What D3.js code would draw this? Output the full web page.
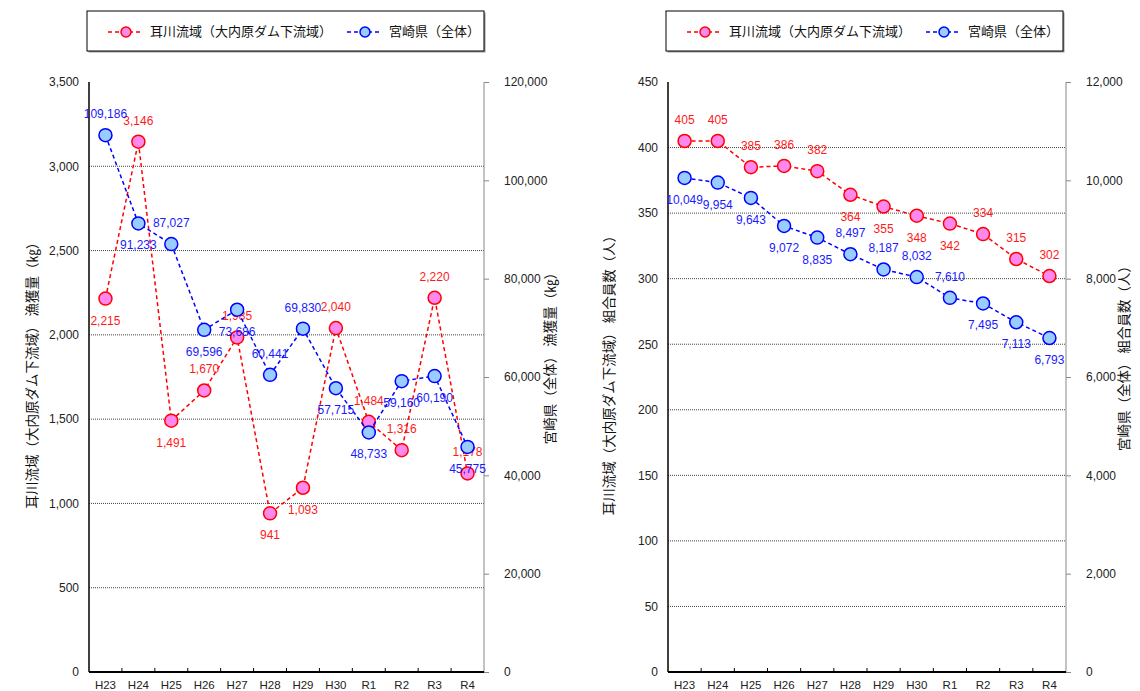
<!DOCTYPE html>
<html>
<head>
<meta charset="utf-8">
<script src="https://cdn.jsdelivr.net/npm/d3@7"></script>
<style>
body { margin: 0; background: #fff; }
</style>
</head>
<body>
<svg width="1140" height="691" font-family="Noto Sans CJK JP, Noto Sans, sans-serif"></svg>
<script>
// data
var years = ["H23", "H24", "H25", "H26", "H27", "H28", "H29", "H30", "R1", "R2", "R3", "R4"];
var catchMimi = [2215, 3146, 1491, 1670, 1985, 941, 1093, 2040, 1484, 1316, 2220, 1178];
var catchPref = [109186, 91233, 87027, 69596, 73686, 60441, 69830, 57715, 48733, 59160, 60190, 45775];
var memberMimi = [405, 405, 385, 386, 382, 364, 355, 348, 342, 334, 315, 302];
var memberPref = [10049, 9954, 9643, 9072, 8835, 8497, 8187, 8032, 7610, 7495, 7113, 6793];
var nameMimi = "耳川流域（大内原ダム下流域）";
var namePref = "宮崎県（全体）";

var svg = d3.select("svg");
var numFont = "Liberation Sans, Arial, sans-serif";

function drawChart(o) {
    var g = svg.append("g");
    var top = 82, bottom = 672;

    var scX = d3.scaleBand().domain(years).range([o.x0, o.x1]);
    var cx = d => scX(d) + scX.bandwidth() / 2;
    var scL = d3.scaleLinear().domain([0, o.leftMax]).range([bottom, top]);
    var scR = d3.scaleLinear().domain([0, o.rightMax]).range([bottom, top]);
    var leftTicks = d3.range(0, o.leftMax + 1, o.leftStep);
    var rightTicks = d3.range(0, o.rightMax + 1, o.rightStep);

    // grid lines (dotted)
    g.append("g").selectAll("line")
        .data(leftTicks.filter(v => v > 0 && v < o.leftMax))
        .enter().append("line")
        .attr("x1", o.x0).attr("x2", o.x1)
        .attr("y1", d => scL(d)).attr("y2", d => scL(d))
        .attr("stroke", "#444").attr("stroke-width", 1)
        .attr("stroke-dasharray", "1,1");

    // left axis
    var ax = g.append("g").attr("transform", "translate(" + o.x0 + ",0)")
        .call(d3.axisLeft(scL).tickValues(leftTicks).tickFormat(d3.format(",")).tickSize(0).tickPadding(10));
    ax.select(".domain").remove();
    ax.selectAll("text").attr("font-size", 12).attr("fill", "#222").attr("font-family", numFont);
    g.append("line").attr("x1", o.x0).attr("x2", o.x0).attr("y1", top).attr("y2", bottom)
        .attr("stroke", "#000").attr("stroke-width", 1.5);

    // right axis
    var ar = g.append("g").attr("transform", "translate(" + o.x1 + ",0)")
        .call(d3.axisRight(scR).tickValues(rightTicks).tickFormat(d3.format(",")).tickSize(5).tickPadding(15));
    ar.select(".domain").remove();
    ar.selectAll("line").attr("stroke", "#888");
    ar.selectAll("text").attr("font-size", 12).attr("fill", "#222").attr("font-family", numFont);
    g.append("line").attr("x1", o.x1).attr("x2", o.x1).attr("y1", top).attr("y2", bottom)
        .attr("stroke", "#888").attr("stroke-width", 1);

    // x axis
    var axb = g.append("g").attr("transform", "translate(0," + bottom + ")")
        .call(d3.axisBottom(scX).tickSize(0).tickPadding(9));
    axb.select(".domain").remove();
    axb.selectAll("text").attr("font-size", 11.5).attr("fill", "#222")
        .attr("font-family", "Liberation Sans Narrow, Liberation Sans, Arial, sans-serif");
    g.append("g").selectAll("line")
        .data(years.slice(1)).enter().append("line")
        .attr("x1", d => scX(d)).attr("x2", d => scX(d))
        .attr("y1", bottom).attr("y2", bottom - 4)
        .attr("stroke", "#000");
    g.append("line").attr("x1", o.x0).attr("x2", o.x1).attr("y1", bottom).attr("y2", bottom)
        .attr("stroke", "#000").attr("stroke-width", 2);

    // axis titles
    g.append("text").attr("transform", "translate(" + o.titleLx + ",372) rotate(-90)")
        .attr("text-anchor", "middle").attr("dominant-baseline", "middle")
        .attr("font-size", 13.5).attr("fill", "#111").text(o.titleL);
    g.append("text").attr("transform", "translate(" + o.titleRx + ",355) rotate(-90)")
        .attr("text-anchor", "middle").attr("dominant-baseline", "middle")
        .attr("font-size", 13.5).attr("fill", "#111").text(o.titleR);

    // series
    var series = [
        { vals: o.red, sc: scL, stroke: "#ff0000", fill: "#ff88ee", txt: "#ff1a1a", pos: o.redPos },
        { vals: o.blue, sc: scR, stroke: "#0000ff", fill: "#99ccff", txt: "#1a1aff", pos: o.bluePos }
    ];
    series.forEach(function(s) {
        var lineMaker = d3.line().x((d, i) => cx(years[i])).y(d => s.sc(d));
        g.append("path").attr("d", lineMaker(s.vals))
            .attr("fill", "none").attr("stroke", s.stroke).attr("stroke-width", 1.5)
            .attr("stroke-dasharray", "4,3");
        g.append("g").selectAll("circle")
            .data(s.vals).enter().append("circle")
            .attr("cx", (d, i) => cx(years[i])).attr("cy", d => s.sc(d))
            .attr("r", 6.5).attr("fill", s.fill).attr("stroke", s.stroke).attr("stroke-width", 1.5);
        g.append("g").selectAll("text")
            .data(s.vals).enter().append("text")
            .attr("x", (d, i) => cx(years[i]))
            .attr("y", (d, i) => s.sc(d) + (s.pos[i] === "a" ? -17 : 26))
            .attr("text-anchor", "middle").attr("font-size", 12)
            .attr("font-family", numFont)
            .attr("fill", s.txt).text(d => d3.format(",")(d));
    });

    // legend
    var lx = o.x0 - 2;
    g.append("rect").attr("x", lx + 1.5).attr("y", 12.5).attr("width", 397).attr("height", 40)
        .attr("fill", "#999");
    g.append("rect").attr("x", lx).attr("y", 11).attr("width", 397).attr("height", 40)
        .attr("fill", "#fff").attr("stroke", "#000").attr("stroke-width", 1);
    [[series[0], nameMimi, 21], [series[1], namePref, 260]].forEach(function(e) {
        var x = lx + e[2];
        g.append("line").attr("x1", x).attr("x2", x + 34).attr("y1", 32).attr("y2", 32)
            .attr("stroke", e[0].stroke).attr("stroke-width", 1.5).attr("stroke-dasharray", "4,3");
        g.append("circle").attr("cx", x + 18).attr("cy", 32).attr("r", 5)
            .attr("fill", e[0].fill).attr("stroke", e[0].stroke).attr("stroke-width", 1.5);
        g.append("text").attr("x", x + 42).attr("y", 32).attr("dominant-baseline", "middle")
            .attr("font-size", 13).attr("fill", "#111").text(e[1]);
    });
}

drawChart({
    x0: 89, x1: 484, leftMax: 3500, leftStep: 500, rightMax: 120000, rightStep: 20000,
    red: catchMimi, blue: catchPref,
    redPos: ["b", "a", "b", "a", "a", "b", "b", "a", "a", "a", "a", "a"],
    bluePos: ["a", "b", "a", "b", "b", "a", "a", "b", "b", "b", "b", "b"],
    titleL: nameMimi + " 漁獲量（㎏）", titleR: namePref + " 漁獲量（㎏）",
    titleLx: 33, titleRx: 551
});
drawChart({
    x0: 668, x1: 1066, leftMax: 450, leftStep: 50, rightMax: 12000, rightStep: 2000,
    red: memberMimi, blue: memberPref,
    redPos: ["a", "a", "a", "a", "a", "b", "b", "b", "b", "a", "a", "a"],
    bluePos: ["b", "b", "b", "b", "b", "a", "a", "a", "a", "b", "b", "b"],
    titleL: nameMimi + " 組合員数（人）", titleR: namePref + " 組合員数（人）",
    titleLx: 610, titleRx: 1125
});
</script>
</body>
</html>
